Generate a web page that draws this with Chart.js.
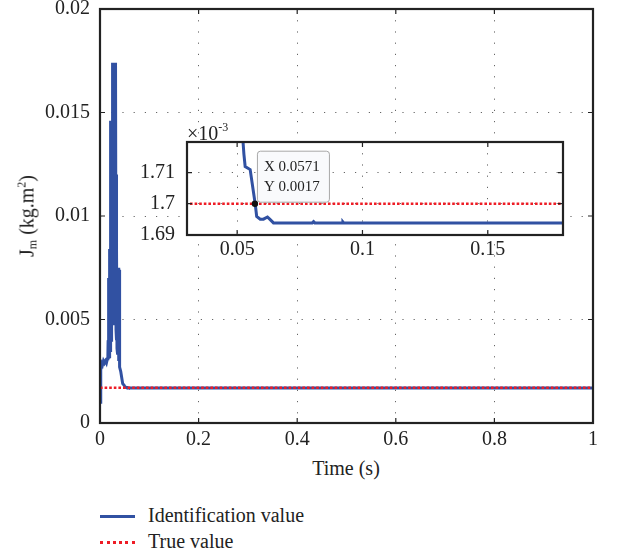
<!DOCTYPE html>
<html>
<head>
<meta charset="utf-8">
<script src="https://cdn.jsdelivr.net/npm/chart.js@4.4.1/dist/chart.umd.min.js"></script>
<style>
  html, body { margin:0; padding:0; background:#fff; }
  body { width:617px; height:556px; position:relative; overflow:hidden; font-family:"Liberation Serif","DejaVu Serif",serif; color:#222; }
  #mainWrap { position:absolute; left:0; top:-20px; }
  #insetWrap { position:absolute; left:130px; top:100px; }
  .txt { position:absolute; white-space:nowrap; font-size:20px; line-height:1; }
  #ylab { left:27px; top:216px; transform:translate(-50%,-50%) rotate(-90deg); }
  #ylab sub { font-size:12px; vertical-align:-3px; }
  #ylab sup { font-size:12px; vertical-align:8px; }
  #xlab { left:346px; top:468px; transform:translate(-50%,-50%); }
  #exp { left:187px; top:121px; font-size:20px; }
  #exp sup { font-size:12px; vertical-align:9px; }
  .legline { position:absolute; left:100px; width:35px; height:0; }
</style>
</head>
<body>
<div id="mainWrap"><canvas id="c1" width="617" height="470"></canvas></div>
<div id="insetWrap"><canvas id="c2" width="460" height="160"></canvas></div>
<div class="txt" id="ylab">J<sub>m</sub> (kg.m<sup>2</sup>)</div>
<div class="txt" id="xlab">Time (s)</div>
<div class="txt" id="exp">×10<sup>-3</sup></div>
<div class="legline" style="top:515px;border-top:3px solid #3151a2;"></div>
<div class="txt" style="left:148px;top:505px;">Identification value</div>
<div class="legline" style="top:541px;border-top:3px dotted #ee1c25;"></div>
<div class="txt" style="left:148px;top:531px;">True value</div>
<script>
// ---- data ----
const timeS = [0,0.001,0.002,0.003,0.005,0.007,0.009,0.011,0.013,0.015,0.016,0.0165,0.017,0.0175,0.018,0.0185,0.019,0.0195,0.020,0.0205,0.021,0.0215,0.022,0.0225,0.023,0.0235,0.024,0.0245,0.025,0.0255,0.026,0.0265,0.027,0.0275,0.028,0.0285,0.029,0.0295,0.030,0.0305,0.031,0.0315,0.032,0.0325,0.033,0.0335,0.034,0.0345,0.035,0.0355,0.036,0.0365,0.037,0.0375,0.038,0.0385,0.039,0.0395,0.040,0.042,0.044,0.046,0.048,0.050,0.052,0.0527,0.0532,0.0552,0.0572,0.0578,0.0592,0.0605,0.0621,0.063,0.0645,0.070,0.080,0.0805,0.081,0.092,0.0922,0.0925,0.1,0.2,0.3,0.4,0.5,0.6,0.7,0.8,0.9,1.0];
const identValue = [0.001,0.0018,0.0028,0.0029,0.0028,0.0030,0.0029,0.0030,0.0029,0.0031,0.0033,0.0040,0.0069,0.0031,0.0070,0.0032,0.0076,0.0034,0.0084,0.0035,0.0090,0.0038,0.0146,0.0040,0.0146,0.0044,0.0146,0.0048,0.0146,0.0049,0.0174,0.0048,0.0174,0.0049,0.0174,0.0048,0.0174,0.0049,0.0174,0.0048,0.0174,0.0049,0.0173,0.0045,0.0120,0.0040,0.0084,0.0036,0.0075,0.0034,0.0075,0.0033,0.0075,0.0032,0.0075,0.0030,0.0074,0.0030,0.0027,0.0025,0.0022,0.0019,0.00185,0.00178,0.001724,0.001716,0.001712,0.001711,0.0017,0.0016959,0.001695,0.001695,0.0016957,0.001695,0.0016938,0.0016938,0.0016938,0.0016942,0.0016938,0.0016938,0.0016941,0.0016938,0.0016938,0.0016938,0.0016938,0.0016938,0.0016938,0.0016938,0.0016938,0.0016938,0.0016938,0.0016938];
const trueTime = [0, 1];
const trueValue = [0.0017, 0.0017];
const xTicksMain = [0, 0.2, 0.4, 0.6, 0.8, 1];
const yTicksMain = [0, 0.005, 0.01, 0.015, 0.02];
const xTicksInset = [0.05, 0.1, 0.15];
const yTicksInset = [0.00169, 0.0017, 0.00171];
const markerX = 0.0571, markerY = 0.0017;
const legendLabels = ['Identification value', 'True value'];

// ---- helpers ----
const BLUE = '#3151a2', RED = '#ee1c25', FONT = '"Liberation Serif", "DejaVu Serif", serif';
const identData = timeS.map((t, i) => ({x: t, y: identValue[i]}));
const trueData = trueTime.map((t, i) => ({x: t, y: trueValue[i]}));
const fmt = v => String(+(+v).toFixed(6));

const framePlugin = {
  id: 'frame',
  beforeDraw(chart) {
    const a = chart.chartArea, ctx = chart.ctx;
    ctx.save(); ctx.fillStyle = '#fff';
    ctx.fillRect(a.left, a.top, a.right - a.left, a.bottom - a.top);
    ctx.restore();
  },
  afterDraw(chart) {
    const a = chart.chartArea, ctx = chart.ctx, L = 5;
    ctx.save();
    ctx.strokeStyle = '#222'; ctx.lineWidth = 1.2;
    const xs = chart.scales.x, ys = chart.scales.y;
    ctx.beginPath();
    xs.ticks.forEach(t => {
      const p = xs.getPixelForValue(t.value);
      ctx.moveTo(p, a.bottom); ctx.lineTo(p, a.bottom - L);
      ctx.moveTo(p, a.top); ctx.lineTo(p, a.top + L);
    });
    ys.ticks.forEach(t => {
      const p = ys.getPixelForValue(t.value);
      ctx.moveTo(a.left, p); ctx.lineTo(a.left + L, p);
      ctx.moveTo(a.right, p); ctx.lineTo(a.right - L, p);
    });
    ctx.stroke();
    ctx.lineWidth = 2.2;
    ctx.strokeRect(a.left, a.top, a.right - a.left, a.bottom - a.top);
    ctx.restore();
  }
};

function scaleOpts(min, max, ticksArr, pad, fit, isX, labelFmt) {
  return {
    type: 'linear', min, max,
    afterBuildTicks: s => { s.ticks = ticksArr.map(v => ({value: v})); },
    afterFit: s => { if (isX) s.height = fit; else s.width = fit; },
    grid: { color: '#666', lineWidth: 1, drawTicks: false },
    border: { display: false, dash: [1.2, 10] },
    ticks: { color: '#222', padding: pad, font: {family: FONT, size: 20}, callback: labelFmt, maxRotation: 0, autoSkip: false }
  };
}

const datasets = () => [
  { label: legendLabels[1], data: trueData, borderColor: RED, borderWidth: 2.6, borderDash: [2.6, 2], pointRadius: 0, order: 0 },
  { label: legendLabels[0], data: identData, borderColor: BLUE, borderWidth: 3, pointRadius: 0, tension: 0, order: 1 }
];

const markerPlugin = {
  id: 'marker',
  afterDraw(chart) {
    const ctx = chart.ctx;
    const px = chart.scales.x.getPixelForValue(markerX), py = chart.scales.y.getPixelForValue(markerY);
    ctx.save();
    const bx = px + 2, by = py - 53, bw = 72, bh = 51;
    ctx.fillStyle = '#f9fafc'; ctx.strokeStyle = '#a8a8a8'; ctx.lineWidth = 1;
    ctx.beginPath(); ctx.roundRect(bx + 0.5, by + 0.5, bw, bh, 3); ctx.fill(); ctx.stroke();
    ctx.fillStyle = '#222'; ctx.font = '15px ' + FONT; ctx.textBaseline = 'middle';
    ctx.fillText('X ' + markerX, bx + 7, py - 37);
    ctx.fillText('Y ' + markerY, bx + 7, py - 17);
    ctx.fillStyle = '#111';
    ctx.beginPath(); ctx.arc(px, py, 3.2, 0, Math.PI * 2); ctx.fill();
    ctx.restore();
  }
};

function build() {
  new Chart(document.getElementById('c1'), {
    type: 'line',
    data: { datasets: datasets() },
    options: {
      responsive: false, animation: false,
      layout: { padding: { left: 0, right: 24, top: 29, bottom: 0 } },
      plugins: { legend: { display: false }, tooltip: { enabled: false } },
      scales: {
        x: scaleOpts(0, 1, xTicksMain, 5, 27, true, v => fmt(v)),
        y: scaleOpts(0, 0.02, yTicksMain, 10, 100, false, v => fmt(v))
      }
    },
    plugins: [framePlugin]
  });
  new Chart(document.getElementById('c2'), {
    type: 'line',
    data: { datasets: datasets() },
    options: {
      responsive: false, animation: false,
      layout: { padding: { left: 0, right: 27, top: 42, bottom: 0 } },
      plugins: { legend: { display: false }, tooltip: { enabled: false } },
      scales: {
        x: scaleOpts(0.03, 0.18, xTicksInset, 3, 25, true, v => fmt(v)),
        y: scaleOpts(0.0016899, 0.0017199, yTicksInset, 12, 57, false, v => String(+(v * 1000).toFixed(2)))
      }
    },
    plugins: [framePlugin, markerPlugin]
  });
}
Promise.all([
  document.fonts.load('20px "Liberation Serif"'),
  document.fonts.load('15px "Liberation Serif"')
]).then(build, build);
</script>
</body>
</html>
